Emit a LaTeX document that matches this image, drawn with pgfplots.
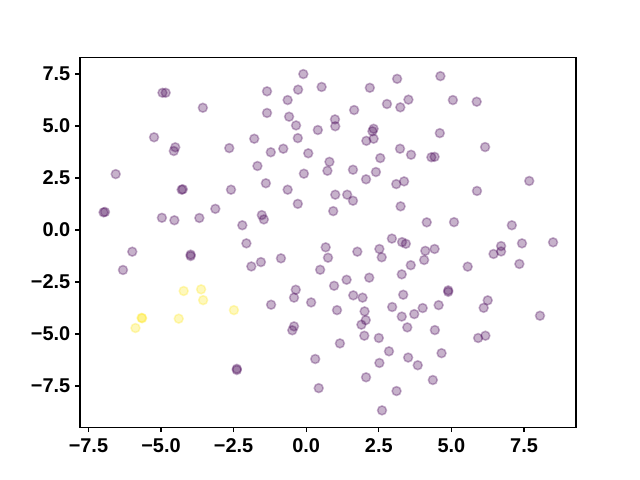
\documentclass[border=0pt]{standalone}
\usepackage{fontspec}
\setmainfont{Liberation Sans}
\usepackage{pgfplots}
\pgfplotsset{compat=1.18}
\definecolor{vpurple}{HTML}{440154}
\definecolor{vyellow}{HTML}{FDE725}
\begin{document}
\begin{tikzpicture}
\useasboundingbox (0,0) rectangle (460.8bp,345.6bp);
\begin{axis}[
  at={(57.6bp,38.0bp)}, anchor=south west,
  scale only axis, width=357.12bp, height=266.1bp,
  xmin=-7.79, xmax=9.29, ymin=-9.48, ymax=8.29,
  axis line style={line width=0.8bp},
  tick align=outside, tick style={line width=0.8bp, black},
  major tick length=3.5bp,
  xtick={-7.5,-5,-2.5,0,2.5,5,7.5},
  xticklabels={−7.5,−5.0,−2.5,0.0,2.5,5.0,7.5},
  ytick={-7.5,-5,-2.5,0,2.5,5,7.5},
  yticklabels={−7.5,−5.0,−2.5,0.0,2.5,5.0,7.5},
  ticklabel style={font=\fontsize{14.4}{16}\selectfont\bfseries},
  xticklabel style={yshift=-1bp},
  xtick pos=bottom, ytick pos=left,
  clip=false,
]
\addplot[only marks, mark=*, mark size=3.2bp,
  mark options={fill=vpurple, draw=vpurple, line width=1.1bp, opacity=0.3}]
coordinates {
(-4.95,6.60) (-4.84,6.60) (-3.56,5.88) (-5.24,4.46) (-4.51,3.98) (-4.56,3.80)
(-2.65,3.94) (-6.56,2.69) (-4.25,1.96) (-4.29,1.94) (-2.59,1.94) (-6.98,0.85)
(-6.93,0.87) (-4.97,0.59) (-4.54,0.47) (-3.68,0.58) (-3.13,1.02) (-2.20,0.23)
(-2.06,-0.64) (-1.79,4.39) (-0.10,7.50) (3.13,7.27) (-1.35,6.67) (-0.28,6.75)
(0.53,6.88) (2.19,6.84) (-0.64,6.25) (-1.35,5.63) (-0.59,5.45) (-0.35,5.03)
(0.40,4.81) (0.99,5.32) (1.00,4.99) (1.65,5.77) (2.78,6.06) (3.24,5.90)
(3.52,6.27) (-0.29,4.42) (2.32,4.87) (2.28,4.75) (2.07,4.29) (2.32,4.39)
(-1.22,3.74) (-0.79,3.91) (0.07,3.69) (0.80,3.28) (0.73,2.85) (1.61,2.90)
(2.55,3.46) (3.23,3.91) (3.61,3.62) (-1.68,3.08) (-0.08,2.71) (2.40,2.79)
(-1.39,2.25) (-0.64,1.94) (2.06,2.44) (3.10,2.21) (3.37,2.34) (1.00,1.70)
(1.41,1.70) (1.61,1.41) (-0.29,1.26) (0.93,0.91) (3.25,1.14) (-1.53,0.72)
(-1.46,0.51) (4.62,7.40) (5.05,6.25) (5.87,6.17) (4.60,4.66) (6.16,3.99)
(4.31,3.50) (4.42,3.52) (7.68,2.36) (5.88,1.88) (4.15,0.37) (5.09,0.38)
(7.08,0.23) (6.71,-0.77) (6.71,-1.03) (7.43,-0.64) (8.50,-0.59) (2.95,-0.41)
(3.30,-0.58) (3.43,-0.66) (-5.99,-1.04) (-6.31,-1.92) (-3.98,-1.18) (-3.98,-1.25)
(-2.39,-6.67) (-2.39,-6.73) (-1.89,-1.75) (-1.56,-1.54) (-0.87,-1.36) (0.67,-0.83)
(0.75,-1.33) (0.48,-1.91) (1.76,-1.04) (2.52,-0.91) (2.60,-1.31) (3.60,-1.69)
(3.29,-2.13) (2.17,-2.29) (1.39,-2.39) (0.96,-2.68) (-0.36,-2.87) (-0.42,-3.25)
(-1.21,-3.59) (0.17,-3.48) (1.62,-3.14) (1.94,-3.25) (3.34,-3.11) (1.06,-3.85)
(2.01,-3.91) (2.05,-4.33) (1.90,-4.55) (2.96,-3.70) (3.29,-4.16) (3.48,-4.68)
(-0.42,-4.63) (-0.48,-4.82) (2.00,-5.08) (2.50,-5.19) (1.16,-5.45) (2.85,-5.83)
(3.51,-6.13) (0.31,-6.20) (2.52,-6.39) (2.06,-7.08) (3.11,-7.74) (0.43,-7.60)
(2.61,-8.67) (4.10,-1.00) (4.42,-0.91) (4.06,-1.44) (5.56,-1.76) (6.45,-1.15)
(7.34,-1.63) (4.89,-2.90) (4.89,-2.97) (6.25,-3.38) (6.11,-3.74) (4.56,-3.61)
(4.01,-3.75) (3.72,-4.04) (8.05,-4.12) (4.43,-4.81) (5.92,-5.19) (6.17,-5.08)
(4.66,-5.92) (3.84,-6.50) (4.36,-7.21)
};
\addplot[only marks, mark=*, mark size=3.2bp,
  mark options={fill=vyellow, draw=vyellow, line width=1.1bp, opacity=0.3}]
coordinates {
(-4.22,-2.93) (-3.62,-2.85) (-3.55,-3.37) (-2.49,-3.85)
(-5.67,-4.22) (-5.65,-4.24) (-5.88,-4.71) (-4.39,-4.26)
};
\end{axis}
\end{tikzpicture}
\end{document}
